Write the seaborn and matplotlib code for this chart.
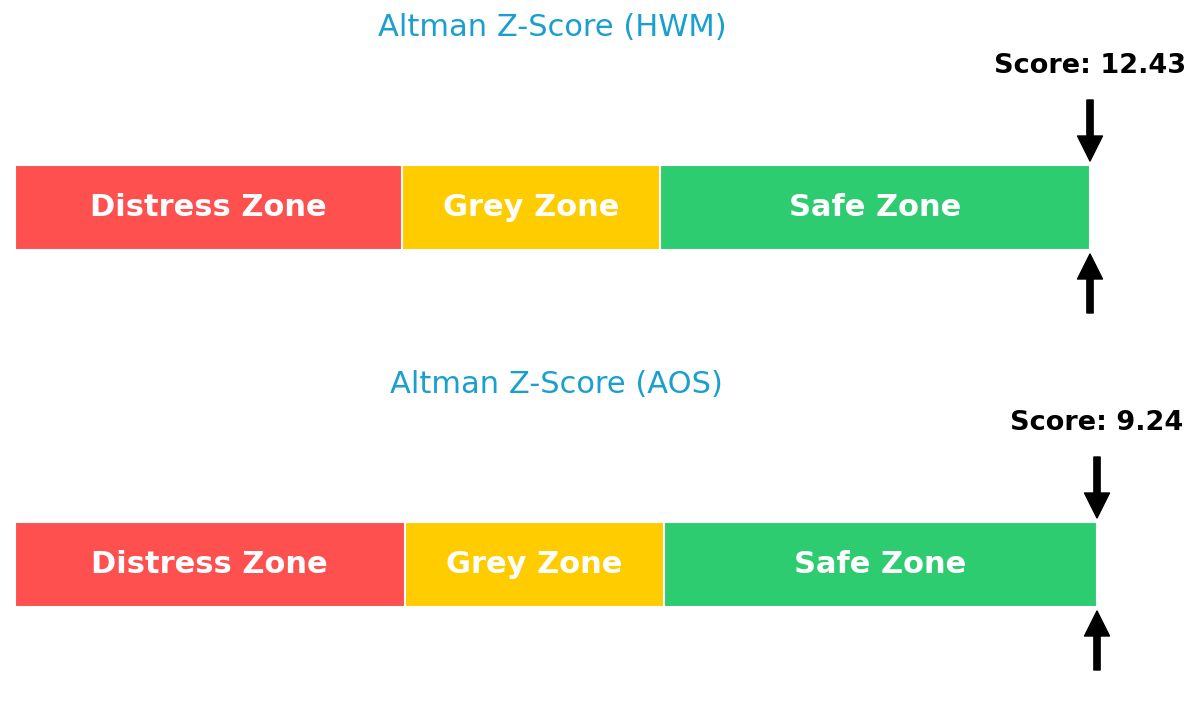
import matplotlib
matplotlib.use("Agg")
import matplotlib.pyplot as plt
import seaborn as sns

# Data
companies = ["HWM", "AOS"]
scores = [12.43, 9.24]
zone_names = ["Distress Zone", "Grey Zone", "Safe Zone"]
zone_edges = [0.0, 1.8, 3.0, 5.0]   # last edge = end of the drawn scale
zone_colors = ["#FF5050", "#FFCC00", "#2ECC71"]
title_color = "#1a9fcf"

sns.set_theme(style="white")
plt.rcParams["font.family"] = ["DejaVu Sans"]

fig = plt.figure(figsize=(12, 7.15), dpi=100)

# axes placed so that each bar fills its axes
axes_pos = [
    [15 / 1200, (715 - 250) / 715, 1075 / 1200, 85 / 715],
    [15 / 1200, (715 - 607) / 715, 1082 / 1200, 85 / 715],
]

px = 85 / 0.8  # pixels per y data unit

for name, score, pos in zip(companies, scores, axes_pos):
    ax = fig.add_axes(pos)
    # overlay cumulative bars from widest to narrowest -> stacked look
    for i in reversed(range(len(zone_names))):
        sns.barplot(x=[zone_edges[i + 1]], y=[name], color=zone_colors[i],
                    orient="h", saturation=1, edgecolor="white",
                    linewidth=1.5, width=0.8, ax=ax)
    cap = zone_edges[-1]
    ax.set_xlim(0, cap)
    ax.set_ylim(0.4, -0.4)
    ax.axis("off")

    for i, zn in enumerate(zone_names):
        mid = (zone_edges[i] + zone_edges[i + 1]) / 2
        ax.text(mid, 0, zn, ha="center", va="center", color="white",
                fontsize=22, fontweight="bold")

    ax.text(cap / 2, -0.4 - 137 / px, f"Altman Z-Score ({name})",
            ha="center", va="center", color=title_color, fontsize=22)

    x_mark = min(score, cap)
    ax.text(x_mark, -0.4 - 99 / px, f"Score: {score:.2f}", ha="center",
            va="center", color="black", fontsize=19.5, fontweight="bold")

    arrow = dict(facecolor="black", edgecolor="black", width=4.5,
                 headwidth=18, headlength=18)
    ax.annotate("", xy=(x_mark, -0.4 - 4 / px), xytext=(x_mark, -0.4 - 65 / px),
                arrowprops=arrow, annotation_clip=False)
    ax.annotate("", xy=(x_mark, 0.4 + 4 / px), xytext=(x_mark, 0.4 + 63 / px),
                arrowprops=arrow, annotation_clip=False)

fig.savefig("out.png", dpi=100)
